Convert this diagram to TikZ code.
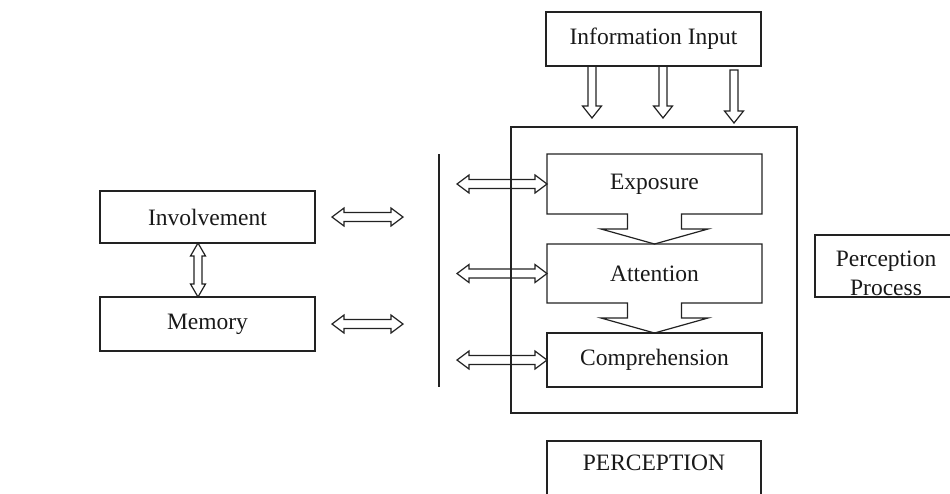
\documentclass[tikz,border=0pt]{standalone}
\usepackage{fontspec}
\setmainfont{Liberation Serif}
\usetikzlibrary{calc}
\definecolor{ln}{HTML}{222222}
\tikzset{
  lbl/.style={inner sep=0pt, outer sep=0pt, font=\fontsize{23.5}{28}\selectfont, text=black!90},
  box/.style={lbl, draw=ln, line width=1.2pt},
  blk/.style={draw=ln, line width=1.2pt, line join=miter},
}
\newcommand\dnarr[2]{\draw[blk] ($(#1)+(-4pt,0)$) -- ($(#2)+(-4pt,12pt)$) -- ($(#2)+(-9.5pt,12pt)$) -- (#2) -- ($(#2)+(9.5pt,12pt)$) -- ($(#2)+(4pt,12pt)$) -- ($(#1)+(4pt,0)$) -- cycle;}
\newcommand\hdbl[2]{\draw[blk] (#1) -- ($(#1)+(12pt,9pt)$) -- ($(#1)+(12pt,4.5pt)$) -- ($(#2)+(-12pt,4.5pt)$) -- ($(#2)+(-12pt,9pt)$) -- (#2) -- ($(#2)+(-12pt,-9pt)$) -- ($(#2)+(-12pt,-4.5pt)$) -- ($(#1)+(12pt,-4.5pt)$) -- ($(#1)+(12pt,-9pt)$) -- cycle;}
\newcommand\vdbl[2]{\draw[blk] (#1) -- ($(#1)+(7.5pt,-13pt)$) -- ($(#1)+(4pt,-13pt)$) -- ($(#2)+(4pt,13pt)$) -- ($(#2)+(7.5pt,13pt)$) -- (#2) -- ($(#2)+(-7.5pt,13pt)$) -- ($(#2)+(-4pt,13pt)$) -- ($(#1)+(-4pt,-13pt)$) -- ($(#1)+(-7.5pt,-13pt)$) -- cycle;}
\begin{document}
\begin{tikzpicture}[x=1pt,y=-1pt]
\useasboundingbox (0,0) rectangle (950,493);
\clip (0,0) rectangle (950,493);
\fill[white] (0,0) rectangle (950,493);

% main boxes
\node[box, minimum width=215pt, minimum height=54pt] (info) at (653.5,39) {Information Input};
\node[box, minimum width=286pt, minimum height=286pt] (proc) at (654,270) {};
\node[lbl, minimum width=215pt, minimum height=60pt] (expo) at (654.5,184) {Exposure};
\node[lbl, minimum width=215pt, minimum height=59pt] (att) at (654.5,273.5) {Attention};
\node[box, minimum width=215pt, minimum height=54pt] (comp) at (654.5,360) {Comprehension};
\node[box, minimum width=215pt, minimum height=52pt] (invol) at (207.5,217) {Involvement};
\node[box, minimum width=215pt, minimum height=54pt] (mem) at (207.5,324) {Memory};
\node[box, minimum width=214pt, minimum height=70pt] (percbox) at (654,476) {};
\node[lbl] (perc) at (654,463) {PERCEPTION};
\node[box, minimum width=145pt, minimum height=62pt] (ppbox) at (887.5,266) {};
\node[lbl, align=center] (pp) at (886,273) {Perception\\[1pt]Process};

% exposure and attention outlines merged with chevron arrows
\draw[blk] (expo.south west) -- (expo.north west) -- (expo.north east) -- (expo.south east)
  -- ($(expo.south)+(27pt,0)$) -- ($(expo.south)+(27pt,-15pt)$) -- ($(expo.south)+(53.5pt,-15pt)$)
  -- (att.north) -- ($(expo.south)+(-53.5pt,-15pt)$) -- ($(expo.south)+(-27pt,-15pt)$)
  -- ($(expo.south)+(-27pt,0)$) -- cycle;
\draw[blk] (att.south west) -- (att.north west) -- (att.north east) -- (att.south east)
  -- ($(att.south)+(27pt,0)$) -- ($(att.south)+(27pt,-15pt)$) -- ($(att.south)+(53.5pt,-15pt)$)
  -- (comp.north) -- ($(att.south)+(-53.5pt,-15pt)$) -- ($(att.south)+(-27pt,-15pt)$)
  -- ($(att.south)+(-27pt,0)$) -- cycle;

% vertical separator
\coordinate (vtop) at (439,154);
\coordinate (vbot) at (439,387);
\draw[blk] (vtop) -- (vbot);

% information input arrows
\coordinate (d1s) at ($(info.south)+(-61.5pt,0)$);
\coordinate (d1e) at (592,118);
\coordinate (d2s) at ($(info.south)+(9.5pt,0)$);
\coordinate (d2e) at (663,118);
\coordinate (d3s) at (734,70);
\coordinate (d3e) at (734,123);
\dnarr{d1s}{d1e}
\dnarr{d2s}{d2e}
\dnarr{d3s}{d3e}

% right double arrows
\coordinate (ea) at ($(expo.west -| vtop)+(18pt,0)$);
\coordinate (aa) at ($(att.west -| vtop)+(18pt,0)$);
\coordinate (ca) at ($(comp.west -| vtop)+(18pt,0)$);
\hdbl{ea}{expo.west}
\hdbl{aa}{att.west}
\hdbl{ca}{comp.west}

% left double arrows
\coordinate (ia) at ($(invol.east)+(17pt,0)$);
\coordinate (ib) at ($(invol.east)+(88pt,0)$);
\coordinate (ma) at ($(mem.east)+(17pt,0)$);
\coordinate (mb) at ($(mem.east)+(88pt,0)$);
\hdbl{ia}{ib}
\hdbl{ma}{mb}

% involvement <-> memory
\coordinate (vt) at ($(invol.south)+(-9.5pt,0)$);
\coordinate (vb) at ($(mem.north)+(-9.5pt,0)$);
\vdbl{vt}{vb}
\end{tikzpicture}
\end{document}
